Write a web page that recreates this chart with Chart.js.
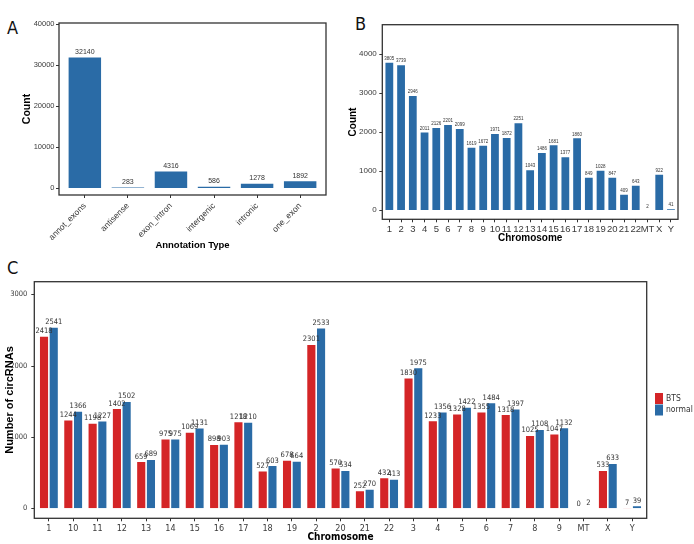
<!DOCTYPE html>
<html>
<head>
<meta charset="utf-8">
<script src="https://cdn.jsdelivr.net/npm/chart.js@4.4.1/dist/chart.umd.min.js"></script>
<style>
  body { margin: 0; background: #fff; width: 694px; height: 544px; position: relative; overflow: hidden; }
  canvas { position: absolute; }
  .tag { position: absolute; font-family: "Liberation Sans Narrow", "DejaVu Sans Condensed", sans-serif;
         font-size: 18px; line-height: 18px; color: #111; }
</style>
</head>
<body>
<div class="tag" style="left:7px;top:19px">A</div>
<div class="tag" style="left:355px;top:15px">B</div>
<div class="tag" style="left:7px;top:259px">C</div>
<canvas id="chartA" width="340" height="262" style="left:0;top:0"></canvas>
<canvas id="chartB" width="354" height="250" style="left:340px;top:0"></canvas>
<canvas id="chartC" width="694" height="282" style="left:0;top:262px"></canvas>
<script>
// panel A
const annotTypes = ['annot_exons', 'antisense', 'exon_intron', 'intergenic', 'intronic', 'one_exon'];
const annotCounts = [32140, 283, 4316, 586, 1278, 1892];
const ticksA = [0, 10000, 20000, 30000, 40000];

// panel B
const chromB = ['1','2','3','4','5','6','7','8','9','10','11','12','13','14','15','16','17','18','19','20','21','22','MT','X','Y'];
const chromCounts = [3805, 3739, 2946, 2011, 2126, 2201, 2099, 1619, 1672, 1971, 1872, 2251, 1043, 1486, 1681, 1377, 1860, 849, 1028, 847, 409, 643, 2, 922, 41];
const ticksB = [0, 1000, 2000, 3000, 4000];

// panel C
const chromC = ['1','10','11','12','13','14','15','16','17','18','19','2','20','21','22','3','4','5','6','7','8','9','MT','X','Y'];
const btsCounts = [2418, 1244, 1198, 1402, 659, 975, 1069, 898, 1218, 527, 678, 2301, 570, 252, 432, 1830, 1233, 1328, 1355, 1318, 1025, 1047, 0, 533, 7];
const normalCounts = [2541, 1366, 1227, 1502, 689, 975, 1131, 903, 1210, 603, 664, 2533, 534, 270, 413, 1975, 1356, 1422, 1484, 1397, 1108, 1132, 2, 633, 39];
const ticksC = [0, 1000, 2000, 3000];

const BLUE = '#2a6ba6';
const RED = '#d42527';
const SANS = '"Liberation Sans", Arial, sans-serif';
const NARROW = '"Liberation Sans Narrow", "DejaVu Sans Condensed", sans-serif';

// draws the ggplot-like panel box, y tick marks, value labels and legend
const panelPlugin = {
  id: 'panel',
  afterDatasetsDraw(chart, args, opts) {
    const ctx = chart.ctx;
    const b = opts.box;
    ctx.save();
    ctx.fillStyle = '#333';
    ctx.font = opts.valueFont;
    ctx.textAlign = 'center';
    ctx.textBaseline = 'bottom';
    chart.data.datasets.forEach((ds, i) => {
      chart.getDatasetMeta(i).data.forEach((bar, j) => {
        ctx.fillText(String(ds.data[j]), bar.x, bar.y - 1);
      });
    });
    ctx.strokeStyle = '#333';
    ctx.lineWidth = 1.3;
    ctx.strokeRect(b.l, b.t, b.r - b.l, b.b - b.t);
    const ys = chart.scales.y;
    ctx.lineWidth = 1;
    ys.ticks.forEach(t => {
      const y = Math.round(ys.getPixelForValue(t.value)) + 0.5;
      ctx.beginPath();
      ctx.moveTo(b.l - 3, y);
      ctx.lineTo(b.l, y);
      ctx.stroke();
    });
    if (opts.legend) {
      const lg = opts.legend;
      ctx.font = lg.font;
      ctx.textAlign = 'left';
      ctx.textBaseline = 'middle';
      chart.data.datasets.forEach((ds, i) => {
        const y = lg.y + i * lg.h;
        ctx.fillStyle = ds.backgroundColor;
        ctx.fillRect(lg.x, y, lg.w, lg.h - 0.5);
        ctx.fillStyle = '#333';
        ctx.fillText(ds.label, lg.x + lg.w + 3, y + lg.h / 2);
      });
    }
    ctx.restore();
  }
};

function makePanel(id, o) {
  const canvas = document.getElementById(id);
  const W = canvas.width, H = canvas.height;
  const n = o.labels.length;
  const unit = (o.box.r - o.box.l) / (n + 0.2);
  const ext = 0.1 * unit;
  return new Chart(canvas.getContext('2d'), {
    type: 'bar',
    data: { labels: o.labels, datasets: o.datasets },
    plugins: [panelPlugin],
    options: {
      responsive: false,
      animation: false,
      events: [],
      layout: { padding: { top: o.box.t, right: W - (o.box.r - ext), bottom: 0, left: 0 } },
      plugins: {
        legend: { display: false },
        tooltip: { enabled: false },
        panel: { box: o.box, valueFont: o.valueFont, legend: o.legend }
      },
      scales: {
        x: {
          offset: true,
          afterFit: s => { s.height = H - o.box.b; },
          grid: { display: true, drawOnChartArea: false, drawTicks: true, tickLength: 3, color: '#333', offset: false },
          border: { display: false },
          ticks: {
            autoSkip: false,
            minRotation: o.rotation, maxRotation: o.rotation,
            padding: o.xTickPad,
            color: '#3a3a3a',
            font: o.xTickFont
          },
          title: { display: true, text: o.xTitle, color: '#000', font: o.xTitleFont, padding: { top: 0, bottom: o.xTitlePad } }
        },
        y: {
          min: o.yMin, max: o.yMax,
          afterFit: s => { s.width = o.box.l + ext; },
          afterBuildTicks: s => { s.ticks = o.yTicks.map(v => ({ value: v })); },
          grid: { display: false, drawTicks: false },
          border: { display: false },
          ticks: { padding: ext + o.yTickPad, color: '#3a3a3a', font: o.yTickFont, callback: v => String(v) },
          title: { display: true, text: o.yTitle, color: '#000', font: o.yTitleFont, padding: { top: o.yTitlePad, bottom: 0 } }
        }
      }
    }
  });
}

makePanel('chartA', {
  labels: annotTypes,
  datasets: [{ data: annotCounts, backgroundColor: BLUE, borderColor: '#fff', borderWidth: 1,
               barPercentage: 0.8, categoryPercentage: 1 }],
  box: { l: 59, t: 23, r: 326, b: 195 },
  yMin: -1700, yMax: 40350, yTicks: ticksA,
  rotation: 45, xTickPad: 3, yTickPad: 4.5,
  xTickFont: { family: SANS, size: 8.5 },
  yTickFont: { family: SANS, size: 7.5 },
  valueFont: '7px ' + SANS,
  xTitle: 'Annotation Type', xTitleFont: { family: SANS, size: 9.5, weight: 'bold' }, xTitlePad: 11,
  yTitle: 'Count', yTitleFont: { family: SANS, size: 10.5, weight: 'bold' }, yTitlePad: 21
});

makePanel('chartB', {
  labels: chromB,
  datasets: [{ data: chromCounts, backgroundColor: BLUE, borderColor: '#fff', borderWidth: 0.8,
               barPercentage: 0.8, categoryPercentage: 1 }],
  box: { l: 42.3, t: 24.7, r: 338, b: 219.3 },
  yMin: -240, yMax: 4760, yTicks: ticksB,
  rotation: 0, xTickPad: 1, yTickPad: 5.5,
  xTickFont: { family: SANS, size: 9.5 },
  yTickFont: { family: SANS, size: 8 },
  valueFont: '4.5px ' + SANS,
  xTitle: 'Chromosome', xTitleFont: { family: SANS, size: 10, weight: 'bold' }, xTitlePad: 6,
  yTitle: 'Count', yTitleFont: { family: SANS, size: 10, weight: 'bold' }, yTitlePad: 7
});

makePanel('chartC', {
  labels: chromC,
  datasets: [
    { label: 'BTS', data: btsCounts, backgroundColor: RED, borderColor: '#fff', borderWidth: 0.8,
      barPercentage: 1, categoryPercentage: 0.8 },
    { label: 'normal', data: normalCounts, backgroundColor: BLUE, borderColor: '#fff', borderWidth: 0.8,
      barPercentage: 1, categoryPercentage: 0.8 }
  ],
  box: { l: 34.3, t: 19.7, r: 646.7, b: 256.3 },
  yMin: -140, yMax: 3177, yTicks: ticksC,
  rotation: 0, xTickPad: 2, yTickPad: 7,
  xTickFont: { family: NARROW, size: 9 },
  yTickFont: { family: NARROW, size: 7.5 },
  valueFont: '7.5px ' + NARROW,
  legend: { x: 655, y: 131, w: 8, h: 11.5, font: '8.5px ' + NARROW },
  xTitle: 'Chromosome', xTitleFont: { family: NARROW, size: 10, weight: 'bold' }, xTitlePad: 1,
  yTitle: 'Number of circRNAs', yTitleFont: { family: SANS, size: 11, weight: 'bold' }, yTitlePad: 3
});
</script>
</body>
</html>
